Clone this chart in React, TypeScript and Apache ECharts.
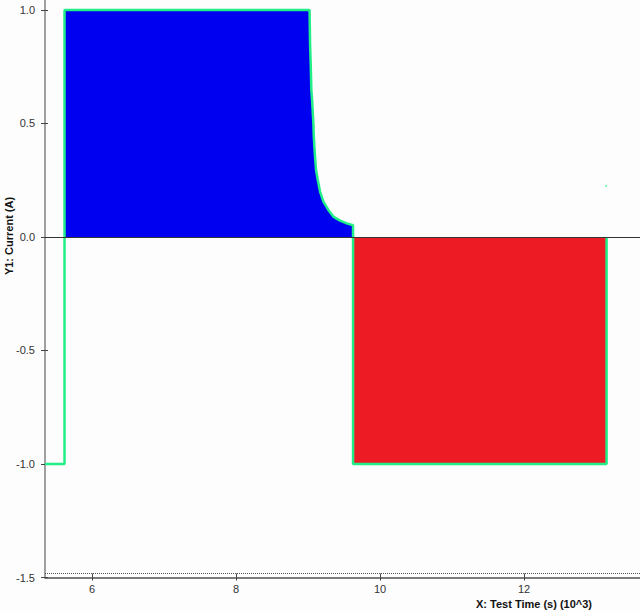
import React, { useEffect, useRef } from "react";
import * as echarts from "echarts";

// Green trace: test time (10^3 s) vs current (A)
const traceX = [5.347, 5.618, 5.618, 9.021, 9.028, 9.038, 9.046, 9.056, 9.065, 9.074, 9.079, 9.088, 9.097, 9.111, 9.135, 9.167, 9.213, 9.282, 9.351, 9.444, 9.538, 9.625, 9.625, 13.146, 13.146];
const traceY = [-1.0, -1.0, 1.0, 1.0, 0.853, 0.75, 0.648, 0.604, 0.552, 0.501, 0.449, 0.398, 0.354, 0.295, 0.251, 0.2, 0.156, 0.119, 0.09, 0.072, 0.06, 0.052, -1.0, -1.0, 0.0];

// Charge step (blue area)
const chargeX = [5.618, 5.618, 9.021, 9.028, 9.038, 9.046, 9.056, 9.065, 9.074, 9.079, 9.088, 9.097, 9.111, 9.135, 9.167, 9.213, 9.282, 9.351, 9.444, 9.538, 9.625, 9.625];
const chargeY = [0.0, 1.0, 1.0, 0.853, 0.75, 0.648, 0.604, 0.552, 0.501, 0.449, 0.398, 0.354, 0.295, 0.251, 0.2, 0.156, 0.119, 0.09, 0.072, 0.06, 0.052, 0.0];

// Discharge step (red area)
const dischargeX = [9.625, 9.625, 13.146, 13.146];
const dischargeY = [0.0, -1.0, -1.0, 0.0];

// Stray point
const strayX = [13.14];
const strayY = [0.225];

const xTicks = [6, 8, 10, 12];
const yTicks = [-1.5, -1.0, -0.5, 0.0, 0.5, 1.0];
const xRange = [5.347, 13.61];
const yRange = [-1.5, 1.044];
const zeroLine = 0;
const dottedLine = -1.482;

const xTitle = "X: Test Time (s) (10^3)";
const yTitle = "Y1: Current (A)";

const zip = (xs: number[], ys: number[]) => xs.map((x, i) => [x, ys[i]]);

const FONT = "Liberation Sans, Arial, sans-serif";
const GREEN = "#22EE88";

export default function App() {
  const ref = useRef<HTMLDivElement>(null);
  useEffect(() => {
    if (!ref.current) return;
    const chart = echarts.init(ref.current, undefined, { renderer: "svg" });
    const axisLabelStyle = { color: "#333", fontSize: 11, fontFamily: FONT };
    chart.setOption({
      animation: false,
      backgroundColor: "#fdfdfd",
      grid: { left: 45, right: 0, top: 0, bottom: 33.5 },
      xAxis: [
        {
          type: "value",
          position: "bottom",
          min: xRange[0],
          max: xRange[1],
          axisLine: { show: true, onZero: false, lineStyle: { color: "#505050", width: 1.5 } },
          axisTick: { show: true, length: 3, customValues: xTicks, lineStyle: { color: "#444" } },
          axisLabel: { ...axisLabelStyle, margin: 6, customValues: xTicks, formatter: (v: number) => String(v) },
          splitLine: { show: false },
        },
        {
          type: "value",
          position: "bottom",
          offset: 0,
          min: xRange[0],
          max: xRange[1],
          axisLine: { show: false, onZero: false },
          axisTick: { show: true, inside: true, length: 4, customValues: xTicks, lineStyle: { color: "#444" } },
          axisLabel: { show: false },
          splitLine: { show: false },
        },
      ],
      yAxis: [
        {
          type: "value",
          position: "left",
          min: yRange[0],
          max: yRange[1],
          axisLine: { show: true, onZero: false, lineStyle: { color: "#a0a0a0", width: 2 } },
          axisTick: { show: true, length: 4, customValues: yTicks, lineStyle: { color: "#444" } },
          axisLabel: { ...axisLabelStyle, margin: 10, customValues: yTicks, formatter: (v: number) => v.toFixed(1) },
          splitLine: { show: false },
        },
        {
          type: "value",
          position: "left",
          offset: 0,
          min: yRange[0],
          max: yRange[1],
          axisLine: { show: false, onZero: false },
          axisTick: { show: true, inside: true, length: 3, customValues: yTicks, lineStyle: { color: "#444" } },
          axisLabel: { show: false },
          splitLine: { show: false },
        },
      ],
      graphic: [
        {
          type: "text",
          x: 534,
          y: 604,
          style: { text: xTitle, font: `bold 11px ${FONT}`, fill: "#111", align: "center", verticalAlign: "middle" },
        },
        {
          type: "text",
          x: 8.5,
          y: 236,
          rotation: Math.PI / 2,
          style: { text: yTitle, font: `bold 11px ${FONT}`, fill: "#111", align: "center", verticalAlign: "middle" },
        },
      ],
      series: [
        {
          type: "line",
          data: zip(chargeX, chargeY),
          symbol: "none",
          lineStyle: { width: 0 },
          areaStyle: { color: "#0000F0", opacity: 1 },
          markLine: {
            silent: true,
            symbol: "none",
            label: { show: false },
            data: [
              { yAxis: zeroLine, lineStyle: { color: "#333", type: "solid", width: 1 } },
              { yAxis: dottedLine, lineStyle: { color: "#555", type: [1, 1], width: 1 } },
            ],
          },
        },
        {
          type: "line",
          data: zip(dischargeX, dischargeY),
          symbol: "none",
          lineStyle: { width: 0 },
          areaStyle: { color: "#ED1C24", opacity: 1 },
        },
        {
          type: "line",
          data: zip(traceX, traceY),
          symbol: "none",
          lineStyle: { color: GREEN, width: 2.5 },
        },
        {
          type: "scatter",
          data: zip(strayX, strayY),
          symbolSize: 2,
          itemStyle: { color: GREEN, opacity: 0.6 },
        },
      ],
    });
    return () => chart.dispose();
  }, []);
  return <div ref={ref} style={{ position: "absolute", left: 0, top: 0, width: 640, height: 611 }} />;
}
